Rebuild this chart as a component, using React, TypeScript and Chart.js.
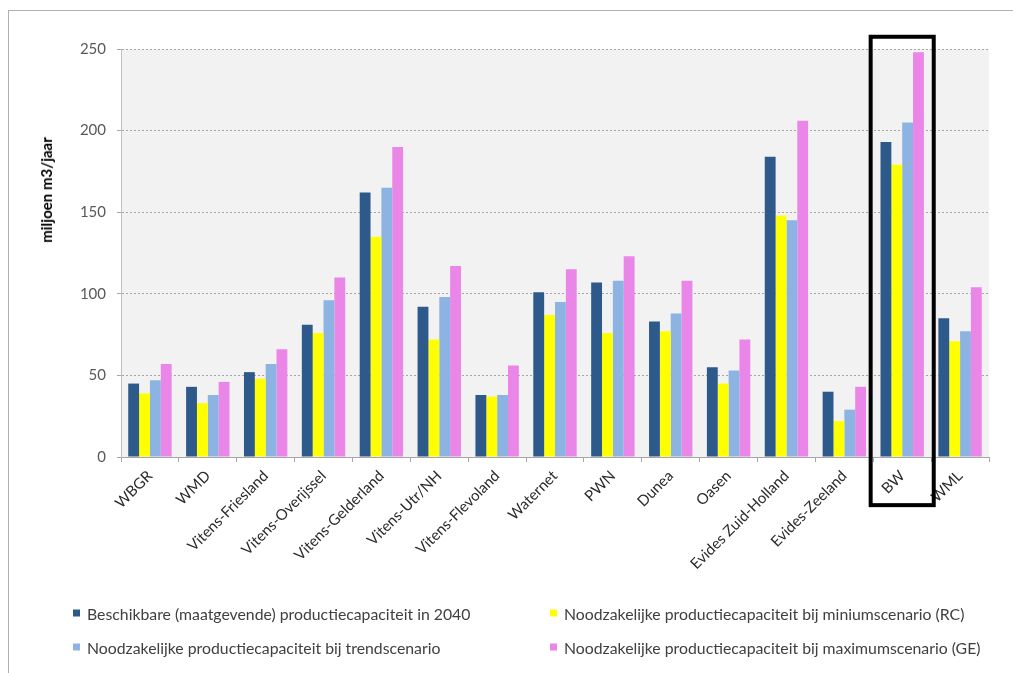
import React, { useEffect, useRef } from "react";
import { Chart, registerables } from "chart.js";

Chart.register(...registerables);

const categories = [
  "WBGR",
  "WMD",
  "Vitens-Friesland",
  "Vitens-Overijssel",
  "Vitens-Gelderland",
  "Vitens-Utr/NH",
  "Vitens-Flevoland",
  "Waternet",
  "PWN",
  "Dunea",
  "Oasen",
  "Evides Zuid-Holland",
  "Evides-Zeeland",
  "BW",
  "WML",
];

const beschikbaar = [45, 43, 52, 81, 162, 92, 38, 101, 107, 83, 55, 184, 40, 193, 85];
const minimum = [39, 33, 48, 76, 135, 72, 37, 87, 76, 77, 45, 148, 22, 179, 71];
const trend = [47, 38, 57, 96, 165, 98, 38, 95, 108, 88, 53, 145, 29, 205, 77];
const maximum = [57, 46, 66, 110, 190, 117, 56, 115, 123, 108, 72, 206, 43, 248, 104];

const seriesLabels = [
  "Beschikbare (maatgevende) productiecapaciteit in 2040",
  "Noodzakelijke productiecapaciteit bij miniumscenario (RC)",
  "Noodzakelijke productiecapaciteit bij trendscenario",
  "Noodzakelijke productiecapaciteit bij maximumscenario (GE)",
];
const seriesColors = ["#2e5a8b", "#ffff00", "#8db3e2", "#ea86e8"];

const yMin = 0;
const yMax = 250;
const yStep = 50;
const yTitle = "miljoen m3/jaar";
const highlighted = "BW";

const FONT = "Lato, 'Open Sans', 'DejaVu Sans', sans-serif";

const plotBackground = {
  id: "plotBackground",
  beforeDraw(chart: any) {
    const { ctx, chartArea } = chart;
    ctx.save();
    ctx.fillStyle = "#f2f2f2";
    ctx.fillRect(chartArea.left, chartArea.top, chartArea.right - chartArea.left, chartArea.bottom - chartArea.top);
    ctx.restore();
  },
};

const highlightBox = {
  id: "highlightBox",
  afterDraw(chart: any) {
    const x = chart.scales.x;
    const y = chart.scales.y;
    const idx = categories.indexOf(highlighted);
    if (idx < 0) return;
    const cw = x.width / categories.length;
    const cx = x.getPixelForValue(idx);
    const left = cx - 0.545 * cw;
    const right = cx + 0.545 * cw;
    const top = y.getPixelForValue(257.5);
    const bottom = y.getPixelForValue(-29.5);
    const ctx = chart.ctx;
    ctx.save();
    ctx.strokeStyle = "#000000";
    ctx.lineWidth = 4;
    ctx.strokeRect(left, top, right - left, bottom - top);
    ctx.restore();
  },
};

const legendLayout = [
  { left: 73, top: 613 },
  { left: 550, top: 613 },
  { left: 73, top: 647 },
  { left: 550, top: 647 },
];

export default function App() {
  const canvasRef = useRef<HTMLCanvasElement | null>(null);

  useEffect(() => {
    if (!canvasRef.current) return;
    const datasets = [beschikbaar, minimum, trend, maximum].map((data, i) => ({
      label: seriesLabels[i],
      data,
      backgroundColor: seriesColors[i],
      borderWidth: 0,
      categoryPercentage: 0.75,
      barPercentage: 1.0,
    }));
    const chart = new Chart(canvasRef.current, {
      type: "bar",
      data: { labels: categories, datasets },
      plugins: [plotBackground, highlightBox],
      options: {
        animation: false,
        responsive: false,
        maintainAspectRatio: false,
        devicePixelRatio: 1,
        layout: { padding: { left: 0, top: 49, right: 24, bottom: 0 } },
        plugins: {
          legend: { display: false },
          tooltip: { enabled: false },
          title: { display: false },
        },
        scales: {
          x: {
            grid: {
              display: true,
              drawOnChartArea: false,
              drawTicks: true,
              offset: true,
              tickLength: 5,
              color: "#a6a6a6",
            },
            border: { display: true, color: "#a6a6a6", width: 1 },
            ticks: {
              autoSkip: false,
              minRotation: 45,
              maxRotation: 45,
              padding: 5,
              color: "#2b2b2b",
              font: { family: FONT, size: 15 },
            },
            afterFit(scale: any) {
              scale.height = 673 - 457;
            },
          },
          y: {
            min: yMin,
            max: yMax,
            ticks: {
              stepSize: yStep,
              padding: 11,
              color: "#595959",
              font: { family: FONT, size: 15 },
            },
            grid: {
              color: "#a6a6a6",
              tickLength: 4,
              lineWidth: 1,
            },
            border: { display: true, color: "#bfbfbf", width: 1, dash: [2, 2] },
            afterFit(scale: any) {
              scale.width = 121;
            },
          },
        },
      },
    });
    return () => chart.destroy();
  }, []);

  return (
    <div
      style={{
        position: "absolute",
        left: 0,
        top: 0,
        width: 1013,
        height: 673,
        background: "#ffffff",
        overflow: "hidden",
        fontFamily: FONT,
      }}
    >
      <div
        style={{
          position: "absolute",
          left: 8,
          top: 10,
          right: 0,
          bottom: 0,
          borderLeft: "1px solid #b0b0b0",
          borderTop: "1px solid #b0b0b0",
        }}
      />
      <canvas
        ref={canvasRef}
        width={1013}
        height={673}
        style={{ position: "absolute", left: 0, top: 0, width: 1013, height: 673 }}
      />
      <div
        style={{
          position: "absolute",
          left: 46,
          top: 190,
          transform: "translate(-50%, -50%) rotate(-90deg)",
          fontWeight: 700,
          fontSize: 15,
          color: "#000000",
          whiteSpace: "nowrap",
        }}
      >
        {yTitle}
      </div>
      {seriesLabels.map((label, i) => (
        <div
          key={label}
          style={{
            position: "absolute",
            left: legendLayout[i].left,
            top: legendLayout[i].top,
            transform: "translateY(-50%)",
            display: "flex",
            alignItems: "center",
            whiteSpace: "nowrap",
            fontSize: 15.8,
            color: "#404040",
          }}
        >
          <span
            style={{
              display: "inline-block",
              width: 7,
              height: 7,
              background: seriesColors[i],
              marginRight: 7,
            }}
          />
          <span>{label}</span>
        </div>
      ))}
    </div>
  );
}
